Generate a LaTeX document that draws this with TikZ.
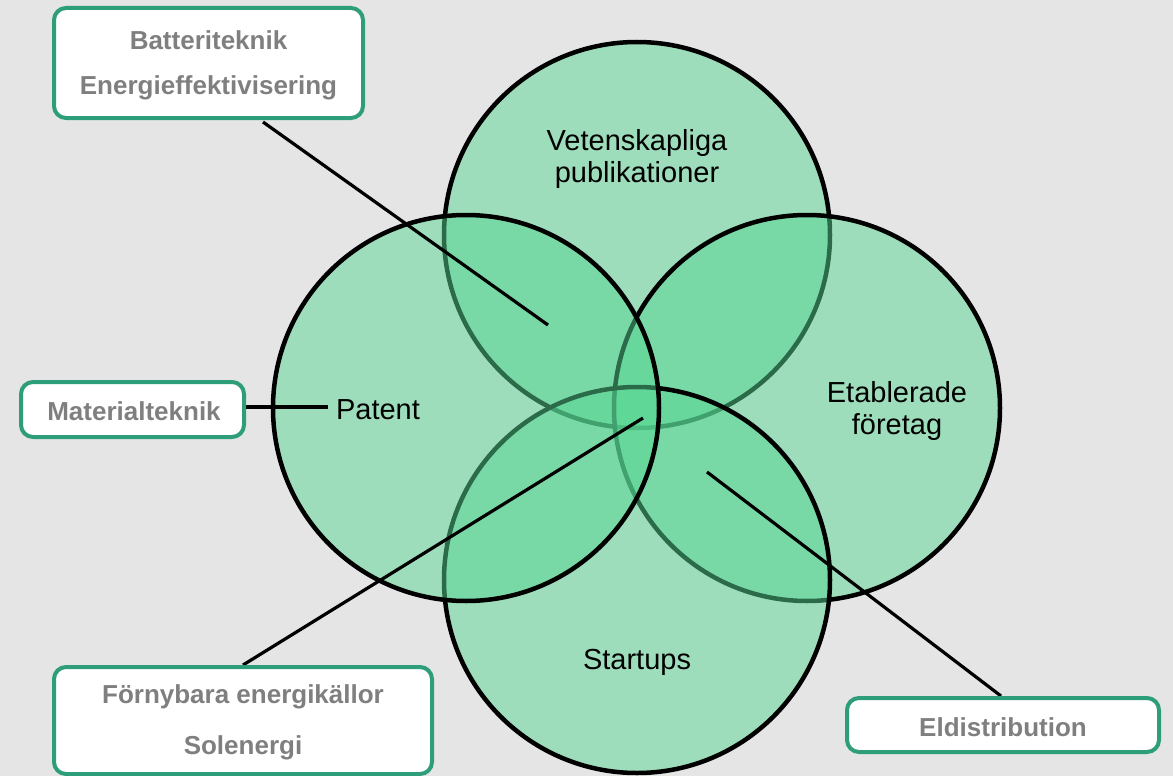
\documentclass[tikz,border=0pt]{standalone}
\usepackage{fontspec}
\setmainfont{Liberation Sans}
\definecolor{bg}{HTML}{E5E5E5}
\definecolor{venn}{HTML}{57D793}
\definecolor{boxline}{HTML}{2E9E7A}
\definecolor{labelgray}{HTML}{7F7F7F}
\begin{document}
\begin{tikzpicture}[x=1pt,y=-1pt,
  set/.style={circle, draw=black, line width=4.5pt, fill=venn, fill opacity=0.5,
    draw opacity=1, minimum size=386pt, inner sep=0pt},
  settext/.style={font=\fontsize{29}{32}\selectfont, align=center, text=black, inner sep=0pt},
  tagbox/.style={draw=boxline, line width=4pt, fill=white, rounded corners=12pt, inner sep=0pt},
  tagtext/.style={text=labelgray, inner sep=0pt, font=\bfseries\fontsize{26}{30}\selectfont},
  link/.style={line width=3.2pt, draw=black}]
\fill[bg] (0,0) rectangle (1173,776);
\useasboundingbox (0,0) rectangle (1173,776);

% the four sets, in stacking order
\node[set] (pub) at (637,235) {};
\node[set] (est) at (807,408) {};
\node[set] (start) at (637,580) {};
\node[set] (pat) at (466,408) {};

% set captions
\node[settext] (tpub) at (637,159) {Vetenskapliga\\publikationer};
\node[settext] (tpat) at (378,410) {Patent};
\node[settext] (test) at (897,411) {Etablerade\\företag};
\node[settext] (tstart) at (637,662) {Startups};

% connector end points
\coordinate (p1) at (548,325);
\coordinate (p2) at (328,407);
\coordinate (p3) at (643,418);
\coordinate (p4) at (707,472);
\coordinate (q1) at (263,122);
\coordinate (q2) at (244,407);
\coordinate (q3) at (243,665);
\coordinate (q4) at (1001,696);

\draw[link] (q1) -- (p1);
\draw[link] (q2) -- (p2);
\draw[link] (q3) -- (p3);
\draw[link] (q4) -- (p4);

% topic boxes
\node[tagbox, minimum width=309pt, minimum height=110pt] (box1) at (208.5,63) {};
\node[tagbox, minimum width=223pt, minimum height=55pt] (box2) at (132.5,409.5) {};
\node[tagbox, minimum width=378pt, minimum height=107pt] (box3) at (243,720.5) {};
\node[tagbox, minimum width=312pt, minimum height=54pt] (box4) at (1003,725) {};

% box labels
\node[tagtext] (l1a) at (208.5,40) {Batteriteknik};
\node[tagtext] (l1b) at (208.5,88) {Energieffektivisering};
\node[tagtext] (l2) at (134,411) {Materialteknik};
\node[tagtext] (l3a) at (243,697) {Förnybara energikällor};
\node[tagtext] (l3b) at (243,748) {Solenergi};
\node[tagtext] (l4) at (1003,727) {Eldistribution};
\end{tikzpicture}
\end{document}
